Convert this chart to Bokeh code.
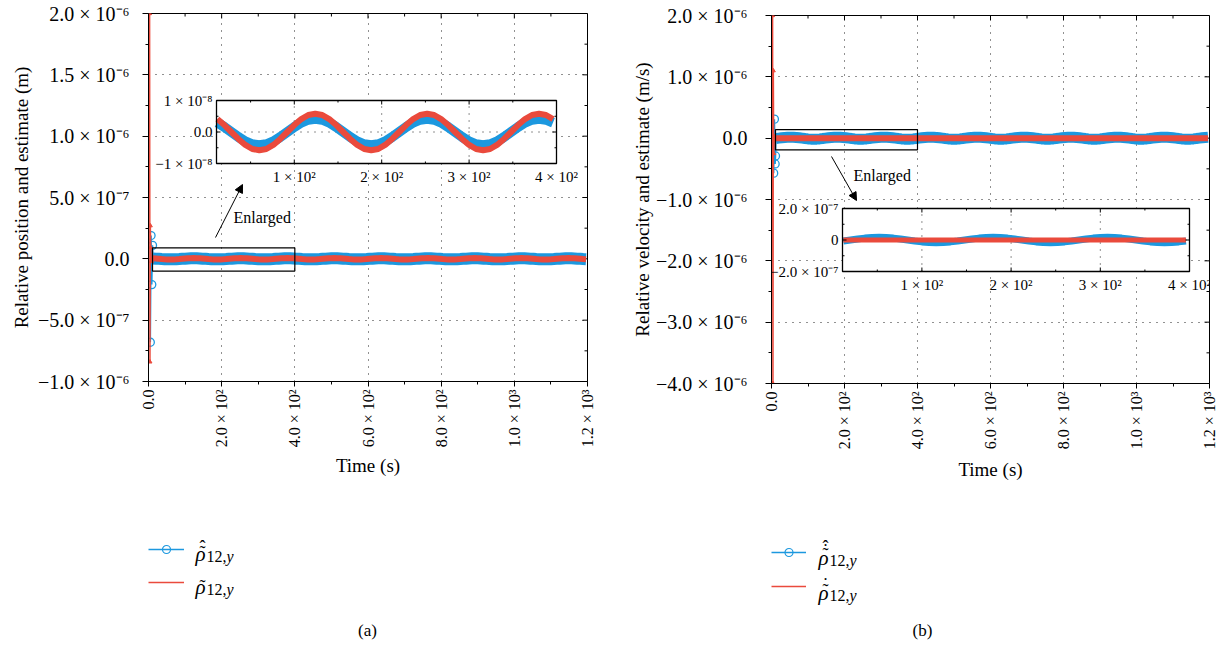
import math
from bokeh.plotting import figure
from bokeh.layouts import row, column
from bokeh.models import (Range1d, LinearAxis, FixedTicker, Grid, Label, Arrow,
                          NormalHead, BoxAnnotation, Legend, LegendItem)
from bokeh.core.properties import value
from bokeh.embed import file_html
from bokeh.resources import INLINE

FONT = "Liberation Serif"
BLUE = "#1c98df"
RED = "#ea4a3c"
GRIDC = "#222222"

# ---------------- data ----------------
time_ss = [12, 20, 28, 36, 44, 52, 60, 68, 76, 84, 92, 100, 108, 116, 124, 132,
           140, 148, 156, 164, 172, 180, 188, 196, 204, 212, 220, 228, 236, 244, 252, 260,
           268, 276, 284, 292, 300, 308, 316, 324, 332, 340, 348, 356, 364, 372, 380, 388,
           396, 404, 412, 420, 428, 436, 444, 452, 460, 468, 476, 484, 492, 500, 508, 516,
           524, 532, 540, 548, 556, 564, 572, 580, 588, 596, 604, 612, 620, 628, 636, 644,
           652, 660, 668, 676, 684, 692, 700, 708, 716, 724, 732, 740, 748, 756, 764, 772,
           780, 788, 796, 804, 812, 820, 828, 836, 844, 852, 860, 868, 876, 884, 892, 900,
           908, 916, 924, 932, 940, 948, 956, 964, 972, 980, 988, 996, 1004, 1012, 1020, 1028,
           1036, 1044, 1052, 1060, 1068, 1076, 1084, 1092, 1100, 1108, 1116, 1124, 1132, 1140, 1148, 1156,
           1164, 1172, 1180, 1188, 1196]

# relative position (true), units of 1e-9 m
pos_true_e9 = [4.1, 2.2, 0.0, -2.2, -4.1, -5.4, -5.8, -5.4, -4.1, -2.2, 0.0, 2.2, 4.1, 5.4, 5.8, 5.4,
               4.1, 2.2, 0.0, -2.2, -4.1, -5.4, -5.8, -5.4, -4.1, -2.2, 0.0, 2.2, 4.1, 5.4, 5.8, 5.4,
               4.1, 2.2, 0.0, -2.2, -4.1, -5.4, -5.8, -5.4, -4.1, -2.2, 0.0, 2.2, 4.1, 5.4, 5.8, 5.4,
               4.1, 2.2, 0.0, -2.2, -4.1, -5.4, -5.8, -5.4, -4.1, -2.2, 0.0, 2.2, 4.1, 5.4, 5.8, 5.4,
               4.1, 2.2, 0.0, -2.2, -4.1, -5.4, -5.8, -5.4, -4.1, -2.2, 0.0, 2.2, 4.1, 5.4, 5.8, 5.4,
               4.1, 2.2, 0.0, -2.2, -4.1, -5.4, -5.8, -5.4, -4.1, -2.2, 0.0, 2.2, 4.1, 5.4, 5.8, 5.4,
               4.1, 2.2, 0.0, -2.2, -4.1, -5.4, -5.8, -5.4, -4.1, -2.2, 0.0, 2.2, 4.1, 5.4, 5.8, 5.4,
               4.1, 2.2, 0.0, -2.2, -4.1, -5.4, -5.8, -5.4, -4.1, -2.2, 0.0, 2.2, 4.1, 5.4, 5.8, 5.4,
               4.1, 2.2, 0.0, -2.2, -4.1, -5.4, -5.8, -5.4, -4.1, -2.2, 0.0, 2.2, 4.1, 5.4, 5.8, 5.4,
               4.1, 2.2, 0.0, -2.2, -4.1]
# relative position estimate, units of 1e-9 m
pos_est_e9 = [3.0, 1.6, 0.0, -1.6, -3.0, -3.9, -4.2, -3.9, -3.0, -1.6, 0.0, 1.6, 3.0, 3.9, 4.2, 3.9,
              3.0, 1.6, 0.0, -1.6, -3.0, -3.9, -4.2, -3.9, -3.0, -1.6, 0.0, 1.6, 3.0, 3.9, 4.2, 3.9,
              3.0, 1.6, 0.0, -1.6, -3.0, -3.9, -4.2, -3.9, -3.0, -1.6, 0.0, 1.6, 3.0, 3.9, 4.2, 3.9,
              3.0, 1.6, 0.0, -1.6, -3.0, -3.9, -4.2, -3.9, -3.0, -1.6, 0.0, 1.6, 3.0, 3.9, 4.2, 3.9,
              3.0, 1.6, 0.0, -1.6, -3.0, -3.9, -4.2, -3.9, -3.0, -1.6, 0.0, 1.6, 3.0, 3.9, 4.2, 3.9,
              3.0, 1.6, 0.0, -1.6, -3.0, -3.9, -4.2, -3.9, -3.0, -1.6, 0.0, 1.6, 3.0, 3.9, 4.2, 3.9,
              3.0, 1.6, 0.0, -1.6, -3.0, -3.9, -4.2, -3.9, -3.0, -1.6, 0.0, 1.6, 3.0, 3.9, 4.2, 3.9,
              3.0, 1.6, 0.0, -1.6, -3.0, -3.9, -4.2, -3.9, -3.0, -1.6, 0.0, 1.6, 3.0, 3.9, 4.2, 3.9,
              3.0, 1.6, 0.0, -1.6, -3.0, -3.9, -4.2, -3.9, -3.0, -1.6, 0.0, 1.6, 3.0, 3.9, 4.2, 3.9,
              3.0, 1.6, 0.0, -1.6, -3.0]
# relative velocity (true), units of 1e-9 m/s
vel_true_e9 = [0.0, 0.0, 0.0, 0.0, 0.0, 0.0, 0.0, 0.0, 0.0, 0.0, 0.0, 0.0, 0.0, 0.0, 0.0, 0.0,
               0.0, 0.0, 0.0, 0.0, 0.0, 0.0, 0.0, 0.0, 0.0, 0.0, 0.0, 0.0, 0.0, 0.0, 0.0, 0.0,
               0.0, 0.0, 0.0, 0.0, 0.0, 0.0, 0.0, 0.0, 0.0, 0.0, 0.0, 0.0, 0.0, 0.0, 0.0, 0.0,
               0.0, 0.0, 0.0, 0.0, 0.0, 0.0, 0.0, 0.0, 0.0, 0.0, 0.0, 0.0, 0.0, 0.0, 0.0, 0.0,
               0.0, 0.0, 0.0, 0.0, 0.0, 0.0, 0.0, 0.0, 0.0, 0.0, 0.0, 0.0, 0.0, 0.0, 0.0, 0.0,
               0.0, 0.0, 0.0, 0.0, 0.0, 0.0, 0.0, 0.0, 0.0, 0.0, 0.0, 0.0, 0.0, 0.0, 0.0, 0.0,
               0.0, 0.0, 0.0, 0.0, 0.0, 0.0, 0.0, 0.0, 0.0, 0.0, 0.0, 0.0, 0.0, 0.0, 0.0, 0.0,
               0.0, 0.0, 0.0, 0.0, 0.0, 0.0, 0.0, 0.0, 0.0, 0.0, 0.0, 0.0, 0.0, 0.0, 0.0, 0.0,
               0.0, 0.0, 0.0, 0.0, 0.0, 0.0, 0.0, 0.0, 0.0, 0.0, 0.0, 0.0, 0.0, 0.0, 0.0, 0.0,
               0.0, 0.0, 0.0, 0.0, 0.0]
# relative velocity estimate, units of 1e-9 m/s
vel_est_e9 = [-6.5, 0.0, 6.5, 12.0, 15.7, 17.0, 15.7, 12.0, 6.5, 0.0, -6.5, -12.0, -15.7, -17.0, -15.7, -12.0,
              -6.5, 0.0, 6.5, 12.0, 15.7, 17.0, 15.7, 12.0, 6.5, 0.0, -6.5, -12.0, -15.7, -17.0, -15.7, -12.0,
              -6.5, 0.0, 6.5, 12.0, 15.7, 17.0, 15.7, 12.0, 6.5, 0.0, -6.5, -12.0, -15.7, -17.0, -15.7, -12.0,
              -6.5, 0.0, 6.5, 12.0, 15.7, 17.0, 15.7, 12.0, 6.5, 0.0, -6.5, -12.0, -15.7, -17.0, -15.7, -12.0,
              -6.5, 0.0, 6.5, 12.0, 15.7, 17.0, 15.7, 12.0, 6.5, 0.0, -6.5, -12.0, -15.7, -17.0, -15.7, -12.0,
              -6.5, 0.0, 6.5, 12.0, 15.7, 17.0, 15.7, 12.0, 6.5, 0.0, -6.5, -12.0, -15.7, -17.0, -15.7, -12.0,
              -6.5, 0.0, 6.5, 12.0, 15.7, 17.0, 15.7, 12.0, 6.5, 0.0, -6.5, -12.0, -15.7, -17.0, -15.7, -12.0,
              -6.5, 0.0, 6.5, 12.0, 15.7, 17.0, 15.7, 12.0, 6.5, 0.0, -6.5, -12.0, -15.7, -17.0, -15.7, -12.0,
              -6.5, 0.0, 6.5, 12.0, 15.7, 17.0, 15.7, 12.0, 6.5, 0.0, -6.5, -12.0, -15.7, -17.0, -15.7, -12.0,
              -6.5, 0.0, 6.5, 12.0, 15.7]

# initial transients
pos_true_tr_t = [3, 4, 5, 6, 8]
pos_true_tr = [2.0e-6, -8.4e-7, 2.7e-7, 9.0e-8, -2.0e-8]
pos_est_tr_t = [5, 7, 9, 11]
pos_est_tr = [-6.8e-7, 1.9e-7, -2.1e-7, 1.1e-7]
vel_true_tr_t = [3, 4, 5, 6, 8]
vel_true_tr = [2.0e-6, -4.0e-6, 1.1e-6, -2.5e-7, 3.0e-8]
vel_est_tr_t = [6, 8, 10, 11]
vel_est_tr = [-5.7e-7, 3.1e-7, -4.2e-7, -2.9e-7]

pos_true = [v * 1e-9 for v in pos_true_e9]
pos_est = [v * 1e-9 for v in pos_est_e9]
vel_true = [v * 1e-9 for v in vel_true_e9]
vel_est = [v * 1e-9 for v in vel_est_e9]

# ticks and tick labels
x_ticks = [0, 200, 400, 600, 800, 1000, 1200]
x_minor = [100, 300, 500, 700, 900, 1100]
x_tick_labels = ["0.0", "2.0 × 10²", "4.0 × 10²", "6.0 × 10²", "8.0 × 10²", "1.0 × 10³", "1.2 × 10³"]

ya_ticks = [-1e-6, -5e-7, 0.0, 5e-7, 1e-6, 1.5e-6, 2e-6]
ya_minor = [-7.5e-7, -2.5e-7, 2.5e-7, 7.5e-7, 1.25e-6, 1.75e-6]
ya_labels = ["−1.0 × 10⁻⁶", "−5.0 × 10⁻⁷", "0.0", "5.0 × 10⁻⁷", "1.0 × 10⁻⁶", "1.5 × 10⁻⁶", "2.0 × 10⁻⁶"]

yb_ticks = [-4e-6, -3e-6, -2e-6, -1e-6, 0.0, 1e-6, 2e-6]
yb_minor = [-3.5e-6, -2.5e-6, -1.5e-6, -5e-7, 5e-7, 1.5e-6]
yb_labels = ["−4.0 × 10⁻⁶", "−3.0 × 10⁻⁶", "−2.0 × 10⁻⁶", "−1.0 × 10⁻⁶", "0.0", "1.0 × 10⁻⁶", "2.0 × 10⁻⁶"]

ins_x_lim = (11, 400)
ins_x_ticks = [100, 200, 300, 400]
ins_x_minor = [50, 150, 250, 350]
ins_x_labels = ["1 × 10²", "2 × 10²", "3 × 10²", "4 × 10²"]
ia_y_lim = (-1e-8, 1e-8)
ia_y_ticks = [-1e-8, 0.0, 1e-8]
ia_y_minor = [-5e-9, 5e-9]
ia_y_labels = ["−1 × 10⁻⁸", "0.0", "1 × 10⁻⁸"]
ib_y_lim = (-2e-7, 2e-7)
ib_y_ticks = [-2e-7, 0.0, 2e-7]
ib_y_minor = [-1e-7, 1e-7]
ib_y_labels = ["−2.0 × 10⁻⁷", "0", "2.0 × 10⁻⁷"]

RHO = "\u03c1"
TILDE = "\u02dc"
HAT = "\u02c6"
DOT = "\u02d9"


def main_panel(fr, right, bottom, yt_list, ym_list, ylabels, ylab, y_std, ylab_std, xlab_std):
    L, T, W, H, x0, x1, y0, y1 = fr
    p = figure(frame_width=W, frame_height=H, min_border_left=L, min_border_right=right,
               min_border_top=T, min_border_bottom=bottom,
               x_range=Range1d(x0, x1), y_range=Range1d(y0, y1),
               x_axis_type=None, y_axis_type=None, toolbar_location=None, output_backend="svg",
               background_fill_color="white", border_fill_color="white",
               outline_line_color="black", outline_line_width=1)
    xt = FixedTicker(ticks=x_ticks, minor_ticks=x_minor)
    yt = FixedTicker(ticks=yt_list, minor_ticks=ym_list)
    xb = LinearAxis(ticker=xt, major_label_overrides=dict(zip(x_ticks, x_tick_labels)),
                    major_label_orientation=math.pi / 2, major_label_standoff=3,
                    major_tick_out=5, major_tick_in=0, minor_tick_out=3, minor_tick_in=0,
                    axis_label="Time (s)", axis_label_standoff=xlab_std)
    yl = LinearAxis(ticker=yt, major_label_overrides=dict(zip(yt_list, ylabels)),
                    major_label_standoff=y_std, major_tick_out=6, major_tick_in=0,
                    minor_tick_out=3, minor_tick_in=0,
                    axis_label=ylab, axis_label_standoff=ylab_std)
    for ax, fs in ((xb, "16px"), (yl, "20px")):
        ax.axis_line_color = "black"
        ax.major_tick_line_color = "black"
        ax.minor_tick_line_color = "black"
        ax.major_label_text_font = FONT
        ax.major_label_text_font_size = fs
        ax.major_label_text_color = "black"
        ax.axis_label_text_font = FONT
        ax.axis_label_text_font_size = "19px"
        ax.axis_label_text_font_style = "normal"
        ax.axis_label_text_color = "black"
    p.add_layout(xb, "below")
    p.add_layout(yl, "left")
    for dim, tk in ((0, xt), (1, yt)):
        p.add_layout(Grid(dimension=dim, ticker=tk, grid_line_color=GRIDC,
                          grid_line_dash="1 6", grid_line_width=1))
    # inward ticks on the top and right frame edges
    rk = dict(length_units="screen", line_color="black")
    p.ray(x=x_ticks, y=y1, length=5, angle=-math.pi / 2, **rk)
    p.ray(x=x_minor, y=y1, length=3, angle=-math.pi / 2, **rk)
    p.ray(x=x1, y=yt_list, length=5, angle=math.pi, **rk)
    p.ray(x=x1, y=ym_list, length=3, angle=math.pi, **rk)
    return p


def add_inset(p, fr, box, xlim, ylim, xt, xm, xl, yt, ym, yl, series):
    L, T, W, H = fr[:4]
    bl, bt, br, bb = box
    kx = (br - bl) / (xlim[1] - xlim[0])
    ky = (bb - bt) / (ylim[1] - ylim[0])
    p.extra_x_ranges = {"ix": Range1d(xlim[0] - (bl - L) / kx, xlim[1] + (L + W - br) / kx)}
    p.extra_y_ranges = {"iy": Range1d(ylim[0] - (T + H - bb) / ky, ylim[1] + (bt - T) / ky)}
    kw = dict(x_range_name="ix", y_range_name="iy")
    p.add_layout(BoxAnnotation(left=xlim[0], right=xlim[1], bottom=ylim[0], top=ylim[1],
                               fill_color="white", fill_alpha=1, line_alpha=0,
                               level="underlay", **kw))
    gx = [v for v in xt if xlim[0] < v < xlim[1]]
    gy = [v for v in yt if ylim[0] < v < ylim[1]]
    p.segment(x0=gx, x1=gx, y0=ylim[0], y1=ylim[1], line_color=GRIDC, line_dash="1 6", **kw)
    p.segment(x0=xlim[0], x1=xlim[1], y0=gy, y1=gy, line_color=GRIDC, line_dash="1 6", **kw)
    n = len([t for t in time_ss if t <= xlim[1]])
    for vals, col, lw in series:
        p.line(time_ss[:n], vals[:n], line_color=col, line_width=lw, **kw)
    p.add_layout(BoxAnnotation(left=xlim[0], right=xlim[1], bottom=ylim[0], top=ylim[1],
                               fill_alpha=0, line_color="black", line_alpha=1, line_width=1.3, **kw))
    rk = dict(length_units="screen", line_color="black", **kw)
    p.ray(x=xt, y=ylim[0], length=4, angle=math.pi / 2, **rk)
    p.ray(x=xm, y=ylim[0], length=2, angle=math.pi / 2, **rk)
    p.ray(x=xt, y=ylim[1], length=4, angle=-math.pi / 2, **rk)
    p.ray(x=xm, y=ylim[1], length=2, angle=-math.pi / 2, **rk)
    p.ray(x=xlim[0], y=yt, length=4, angle=0, **rk)
    p.ray(x=xlim[0], y=ym, length=2, angle=0, **rk)
    p.ray(x=xlim[1], y=yt, length=4, angle=math.pi, **rk)
    p.ray(x=xlim[1], y=ym, length=2, angle=math.pi, **rk)
    p.text(x=xt, y=ylim[0], text=xl, text_font=value(FONT), text_font_size="15px",
           text_align="center", text_baseline="top", y_offset=5, text_color="black", **kw)
    p.text(x=xlim[0], y=yt, text=yl, text_font=value(FONT), text_font_size="15px",
           text_align="right", text_baseline="middle", x_offset=-4, text_color="black", **kw)


def cvt(fr, px, py):
    L, T, W, H, x0, x1, y0, y1 = fr
    return x0 + (px - L) * (x1 - x0) / W, y1 - (py - T) * (y1 - y0) / H


CAP_TOP = 487


def caption_panel(left, width, right, page_left):
    height = 647 - CAP_TOP
    c = figure(frame_width=width, frame_height=height, min_border_left=left, min_border_right=right,
               min_border_top=0, min_border_bottom=0,
               x_range=Range1d(page_left, page_left + width), y_range=Range1d(647, CAP_TOP),
               x_axis_type=None, y_axis_type=None, toolbar_location=None, output_backend="svg",
               background_fill_color="white", border_fill_color="white", outline_line_color=None)
    return c


def ctext(c, px, py, s, size, align="left", baseline="alphabetic", style="normal"):
    c.add_layout(Label(x=px, y=py, text=s, text_font=FONT, text_font_size=size,
                       text_align=align, text_baseline=baseline, text_font_style=style,
                       text_color="black"))


def legend_entry(c, renderers, center_y, gw):
    # one-item legend; its glyph row is centred on center_y (page pixels)
    c.add_layout(Legend(items=[LegendItem(label=" ", renderers=renderers)],
                        location=(0, 637 - center_y), glyph_width=gw, glyph_height=20,
                        spacing=0, padding=0, margin=0, label_standoff=0,
                        label_width=2, label_height=20, label_text_font_size="8px",
                        border_line_alpha=0, background_fill_alpha=0))


def add_legend(c, rows_y, gw, est_t, est_v, true_t, true_v):
    # sample renderers share the transient data, which lies outside this strip's view
    bl = c.line(est_t, est_v, line_color=BLUE, line_width=1.6)
    bs = c.scatter(est_t, est_v, marker="circle", size=8, fill_color=None, line_color=BLUE,
                   line_width=1.2)
    rl = c.line(true_t, true_v, line_color=RED, line_width=1.6)
    legend_entry(c, [bl, bs], rows_y[0], gw)
    legend_entry(c, [rl], rows_y[1], gw)


def symbol(c, x, base, marks, sub_x, sub_base):
    ctext(c, x, base, RHO, "21px", style="italic")
    for mk, mb in marks:
        ctext(c, x + 7, mb, mk, "18px", align="center")
    ctext(c, sub_x, sub_base, "12,", "16px")
    ctext(c, sub_x + 20, sub_base, "y", "16px", style="italic")


# ---------------- panel (a) ----------------
FA = (148, 13, 439, 368, 0, 1200, -1e-6, 2e-6)
pa = main_panel(FA, 26, CAP_TOP - 381, ya_ticks, ya_minor, ya_labels,
                "Relative position and estimate (m)", 13, 3, 5)
pa.line(time_ss, pos_est, line_color=BLUE, line_width=12)
pa.line(pos_est_tr_t + time_ss[:1], pos_est_tr + pos_est[:1], line_color=BLUE, line_width=1.5)
pa.scatter(pos_est_tr_t, pos_est_tr, marker="circle", size=8, fill_color=None,
           line_color=BLUE, line_width=1.3)
pa.line(time_ss, pos_true, line_color=RED, line_width=6)
pa.line(pos_true_tr_t + time_ss[:1], pos_true_tr + pos_true[:1], line_color=RED, line_width=1.5)
pa.scatter(pos_true_tr_t, pos_true_tr, marker="triangle", size=4, color=RED)
pa.add_layout(BoxAnnotation(left=ins_x_lim[0], right=ins_x_lim[1], bottom=-1.0e-7, top=0.9e-7,
                            fill_alpha=0, line_color="black", line_alpha=1, line_width=1.2))
xs, ys = cvt(FA, 215, 237)
xe, ye = cvt(FA, 242, 184)
pa.add_layout(Arrow(end=NormalHead(size=8, fill_color="black", line_color="black"),
                    x_start=xs, y_start=ys, x_end=xe, y_end=ye, line_color="black", line_width=1))
xl_, yl_ = cvt(FA, 233, 225)
pa.add_layout(Label(x=xl_, y=yl_, text="Enlarged", text_font=FONT, text_font_size="16px",
                    text_color="black"))
add_inset(pa, FA, (216, 100, 556, 163), ins_x_lim, ia_y_lim, ins_x_ticks, ins_x_minor,
          ins_x_labels, ia_y_ticks, ia_y_minor, ia_y_labels,
          [(pos_est, BLUE, 10), (pos_true, RED, 6)])

ca = caption_panel(148, 439, 26, 148)
add_legend(ca, (549, 582), 36, pos_est_tr_t, pos_est_tr, pos_true_tr_t, pos_true_tr)
symbol(ca, 195, 553, [(TILDE, 552), (HAT, 546)], 206, 556)
symbol(ca, 195, 586, [(TILDE, 586)], 206, 589)
ctext(ca, 367, 630, "(a)", "17px", align="center", baseline="middle")

# ---------------- panel (b) ----------------
# pixel positions for panel b are given relative to its own left edge (page x - 613)
FB = (158, 15, 438, 368, 0, 1200, -4e-6, 2e-6)
pb = main_panel(FB, 17, CAP_TOP - 383, yb_ticks, yb_minor, yb_labels,
                "Relative velocity and estimate (m/s)", 18, 0, 7)
pb.line(time_ss, vel_est, line_color=BLUE, line_width=11)
pb.line(vel_est_tr_t + time_ss[:1], vel_est_tr + vel_est[:1], line_color=BLUE, line_width=1.5)
pb.scatter(vel_est_tr_t, vel_est_tr, marker="circle", size=8, fill_color=None,
           line_color=BLUE, line_width=1.3)
pb.line(time_ss, vel_true, line_color=RED, line_width=6)
pb.line(vel_true_tr_t + time_ss[:1], vel_true_tr + vel_true[:1], line_color=RED, line_width=1.5)
pb.scatter(vel_true_tr_t, vel_true_tr, marker="triangle", size=4, color=RED)
pb.add_layout(BoxAnnotation(left=ins_x_lim[0], right=ins_x_lim[1], bottom=-1.9e-7, top=1.4e-7,
                            fill_alpha=0, line_color="black", line_alpha=1, line_width=1.2))
xs, ys = cvt(FB, 831 - 613, 156)
xe, ye = cvt(FB, 856 - 613, 200)
pb.add_layout(Arrow(end=NormalHead(size=8, fill_color="black", line_color="black"),
                    x_start=xs, y_start=ys, x_end=xe, y_end=ye, line_color="black", line_width=1))
xl_, yl_ = cvt(FB, 853 - 613, 183)
pb.add_layout(Label(x=xl_, y=yl_, text="Enlarged", text_font=FONT, text_font_size="16px",
                    text_color="black"))
add_inset(pb, FB, (842 - 613, 208, 1189 - 613, 271), ins_x_lim, ib_y_lim, ins_x_ticks, ins_x_minor,
          ins_x_labels, ib_y_ticks, ib_y_minor, ib_y_labels,
          [(vel_est, BLUE, 7), (vel_true, RED, 5)])

cb = caption_panel(158, 438, 17, 771)
add_legend(cb, (552, 586), 35, vel_est_tr_t, vel_est_tr, vel_true_tr_t, vel_true_tr)
symbol(cb, 818, 557, [(TILDE, 554), (DOT, 550), (HAT, 546)], 829, 560)
symbol(cb, 818, 592, [(TILDE, 590), (DOT, 584)], 829, 595)
ctext(cb, 922, 630, "(b)", "17px", align="center", baseline="middle")

layout = row(column(pa, ca), column(pb, cb))

open("out.html", "w").write(file_html(layout, INLINE))
